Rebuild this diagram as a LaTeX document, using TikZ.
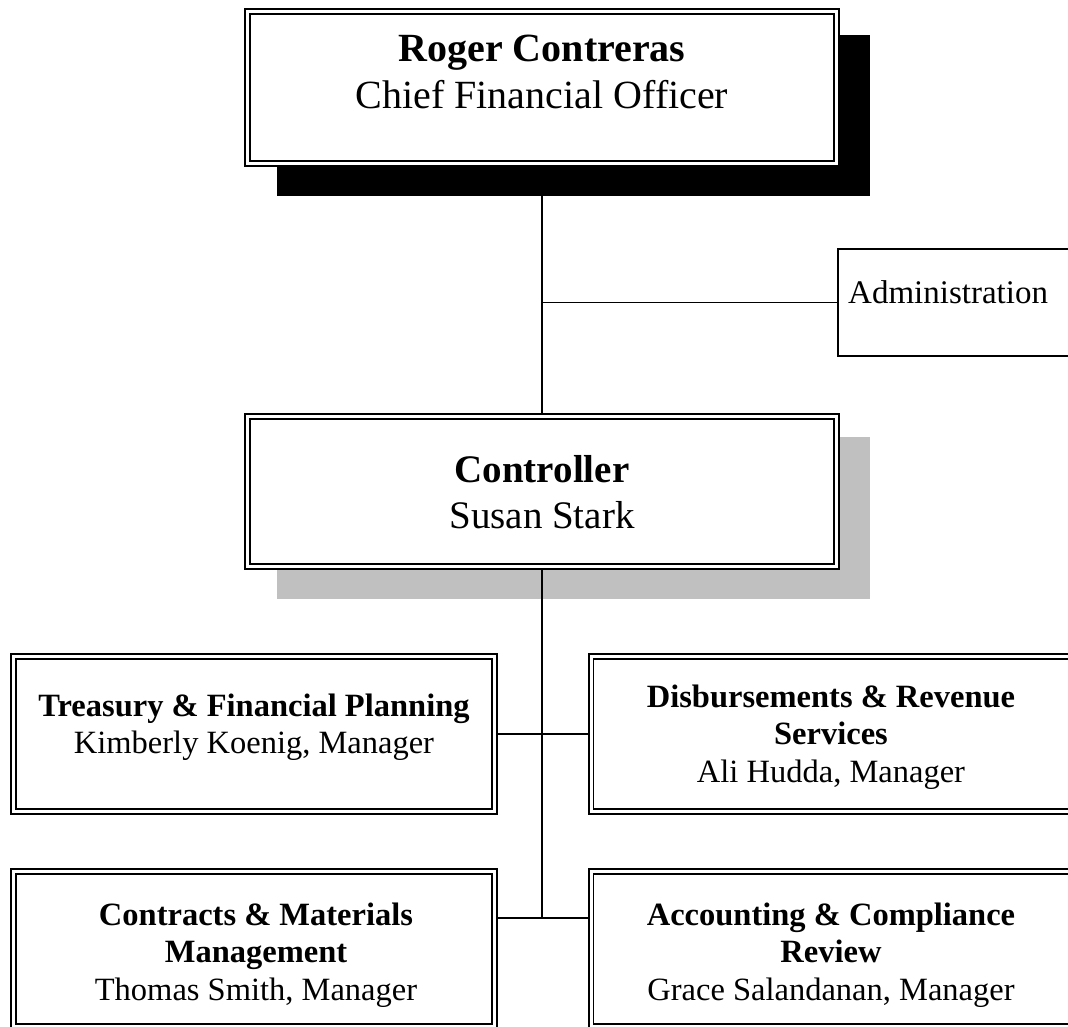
\documentclass[tikz,border=0pt]{standalone}
\usepackage{fontspec}
\setmainfont{Liberation Serif}
\usetikzlibrary{calc}
\pgfdeclarelayer{shadowlayer}
\pgfdeclarelayer{linklayer}
\pgfsetlayers{shadowlayer,linklayer,main}
\definecolor{shadowgray}{HTML}{C0C0C0}

\tikzset{
  dbox/.style={draw=black, line width=1.9pt, double=white, double distance=3pt,
               fill=white, inner sep=0pt, outer sep=0pt},
  sbox/.style={draw=black, line width=1.9pt, fill=white, inner sep=0pt, outer sep=0pt},
  link/.style={draw=black, line width=1.9pt},
  toptext/.style={align=center, inner sep=0pt, font=\fontsize{40}{47}\selectfont},
  midtext/.style={align=center, inner sep=0pt, font=\fontsize{39}{46}\selectfont},
  lowtext/.style={align=center, inner sep=0pt, font=\fontsize{32.5}{37.5}\selectfont},
  admtext/.style={inner sep=0pt, anchor=west, font=\fontsize{33}{38}\selectfont},
}

\begin{document}
\begin{tikzpicture}[x=1pt, y=-1pt]
  \useasboundingbox (0,0) rectangle (1068,1027);
  \clip (0,0) rectangle (1068,1027);

  % boxes
  \node[dbox, minimum width=589, minimum height=152] (cfo) at (542,87.5) {};
  \node[sbox, minimum width=242, minimum height=107, anchor=west] (adm) at (838,302.5) {};
  \node[dbox, minimum width=589, minimum height=150] (ctl) at (542,491.5) {};
  \node[dbox, minimum width=481, minimum height=155] (tre) at (254,734) {};
  \node[dbox, minimum width=489, minimum height=155] (dis) at (835.5,734) {};
  \node[dbox, minimum width=481, minimum height=155] (con) at (254,949) {};
  \node[dbox, minimum width=489, minimum height=155] (acc) at (835.5,949) {};

  % texts
  \node[toptext] (cfotxt) at (542,72) {\textbf{Roger Contreras}\\Chief Financial Officer};
  \node[admtext] (admtxt) at (848,292) {Administration};
  \node[midtext] (ctltxt) at (542,492) {\textbf{Controller}\\Susan Stark};
  \node[lowtext] (tretxt) at (254,727) {\textbf{Treasury \& Financial Planning}\\Kimberly Koenig, Manager};
  \node[lowtext] (distxt) at (831,737) {\textbf{Disbursements \& Revenue}\\\textbf{Services}\\Ali Hudda, Manager};
  \node[lowtext] (contxt) at (256,955) {\textbf{Contracts \& Materials}\\\textbf{Management}\\Thomas Smith, Manager};
  \node[lowtext] (acctxt) at (831,955) {\textbf{Accounting \& Compliance}\\\textbf{Review}\\Grace Salandanan, Manager};

  % drop shadows
  \begin{pgfonlayer}{shadowlayer}
    \fill[black] (277,35) rectangle (870,196);
    \fill[shadowgray] (277,437) rectangle (870,599);
  \end{pgfonlayer}

  % reporting lines
  \begin{pgfonlayer}{linklayer}
    \coordinate (ja) at (cfo.south |- adm.west);
    \coordinate (jb) at (543,918);
    \draw[link] (cfo.south) -- (ctl.north);
    \draw[link] (ja) -- (adm.west);
    \draw[link] (ctl.south) -- (ctl.south |- jb);
    \draw[link] (tre.east) -- (dis.west);
    \draw[link] (jb -| con.east) -- (jb -| acc.west);
  \end{pgfonlayer}
\end{tikzpicture}
\end{document}
